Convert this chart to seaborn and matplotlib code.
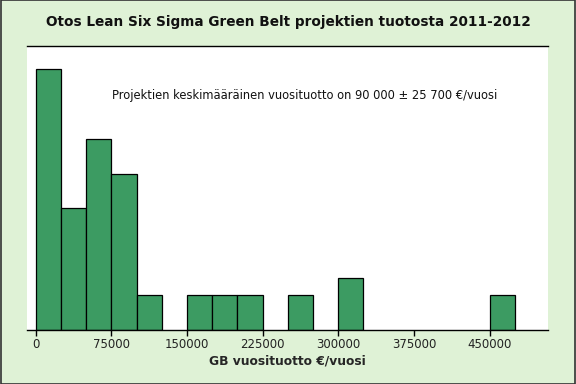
import matplotlib
matplotlib.use("Agg")
import matplotlib.pyplot as plt
import numpy as np
import pandas as pd
import seaborn as sns
from matplotlib.patches import Rectangle

# histogram bins (left edges, width 25000) and project counts per bin
bin_starts = [0, 25000, 50000, 75000, 100000, 125000, 150000, 175000, 200000,
              225000, 250000, 275000, 300000, 325000, 350000, 375000, 400000,
              425000, 450000]
counts = [14, 6, 10, 8, 1, 0, 1, 1, 1, 0, 1, 0, 2, 0, 0, 0, 0, 0, 1]
bin_width = 25000
tick_values = [0, 75000, 150000, 225000, 300000, 375000, 450000]

title = "Otos Lean Six Sigma Green Belt projektien tuotosta 2011-2012"
xlabel = "GB vuosituotto €/vuosi"
note = "Projektien keskimääräinen vuosituotto on 90 000 ± 25 700 €/vuosi"

bg = "#dff2d6"
bar_color = "#3c9b62"

sns.set_theme(style="white")
plt.rcParams["font.family"] = ["DejaVu Sans"]

df = pd.DataFrame({"start": bin_starts, "n": counts})
df["mid"] = df["start"] + bin_width / 2
edges = list(bin_starts) + [bin_starts[-1] + bin_width]

fig = plt.figure(figsize=(5.76, 3.84), dpi=100, facecolor=bg)
ax = fig.add_axes([0.0469, 0.1406, 0.9045, 0.7396])

sns.histplot(data=df, x="mid", weights="n", bins=edges, color=bar_color,
             edgecolor="black", linewidth=0.9, alpha=1, ax=ax)

y_bottom = -1.01
ax.set_xlim(-8600, 508000)
ax.set_ylim(y_bottom, 15.35)

# bars in the original stand on the axis line, empty bins are not drawn
for p in ax.patches:
    h = p.get_height()
    if h <= 0:
        p.set_visible(False)
    else:
        p.set_y(y_bottom)
        p.set_height(h - y_bottom)

ax.set_xticks(tick_values)
ax.set_xticklabels([str(v) for v in tick_values], fontsize=8.5, color="#222222")
ax.set_yticks([])
ax.set_ylabel("")
ax.set_xlabel(xlabel, fontsize=8.8, fontweight="bold", labelpad=2)
ax.tick_params(axis="x", direction="out", length=4, width=1, color="black",
               bottom=True, pad=2)

for side in ["left", "right"]:
    ax.spines[side].set_visible(False)
for side in ["top", "bottom"]:
    ax.spines[side].set_color("black")
    ax.spines[side].set_linewidth(1)

ax.text(0.5335, 0.827, note, transform=ax.transAxes, ha="center", va="center",
        fontsize=8.3, color="#111111")

fig.text(0.5, 0.942, title, ha="center", va="center", fontsize=9.8,
         fontweight="bold", color="#111111")

fig.patches.append(Rectangle((0.001, 0.001), 0.998, 0.998, transform=fig.transFigure,
                             fill=False, edgecolor="#333333", linewidth=1.2))

fig.savefig("out.png", dpi=100, facecolor=bg)
